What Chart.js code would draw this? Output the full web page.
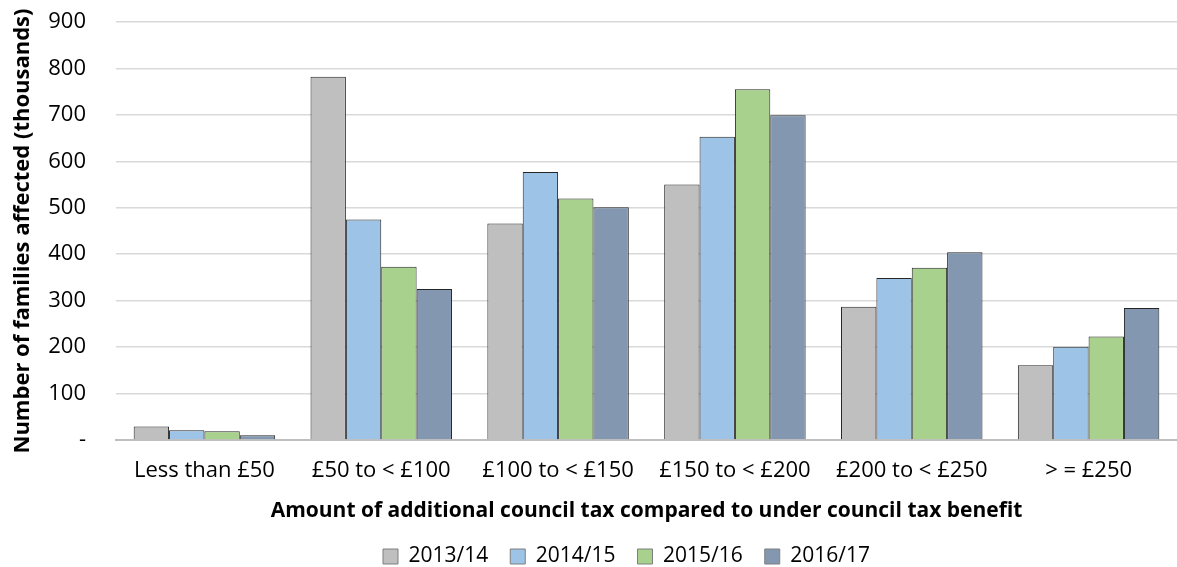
<!DOCTYPE html>
<html>
<head>
<meta charset="utf-8">
<script src="https://cdn.jsdelivr.net/npm/chart.js@4"></script>
<style>
  html, body { margin: 0; padding: 0; background: #fff; }
  #wrap { width: 1177px; height: 567px; }
</style>
</head>
<body>
<div id="wrap"><canvas id="chart" width="1177" height="567"></canvas></div>
<script>
const categories = ['Less than £50', '£50 to < £100', '£100 to < £150', '£150 to < £200', '£200 to < £250', '> = £250']
const years = ['2013/14', '2014/15', '2015/16', '2016/17']
const values2013 = [29, 782, 466, 550, 287, 161]
const values2014 = [21, 475, 577, 653, 349, 201]
const values2015 = [19, 373, 520, 755, 371, 223]
const values2016 = [10, 325, 501, 699, 404, 284]
const yTicks = [0, 100, 200, 300, 400, 500, 600, 700, 800, 900]

const fills = ['#BFBFBF', '#9DC3E6', '#A9D18E', '#8497B0']
const series = [values2013, values2014, values2015, values2016]
const font = 'Open Sans'
const textColor = '#000'

// Excel centres the legend a bit right of the canvas middle
const legendShift = {
    id: 'legendShift',
    afterLayout(chart) {
        chart.legend.left += 38
        chart.legend.right += 38
    }
}

const chart = new Chart(document.getElementById('chart'), {
    type: 'bar',
    data: {
        labels: categories,
        datasets: series.map((vals, i) => ({
            label: years[i],
            data: vals,
            backgroundColor: fills[i],
            borderColor: '#262626',
            borderWidth: 1,
            categoryPercentage: 0.8,
            barPercentage: 1.0
        }))
    },
    options: {
        responsive: false,
        animation: false,
        layout: {padding: {top: 22, right: 0, left: 0, bottom: -10}},
        plugins: {
            tooltip: {enabled: false},
            legend: {
                position: 'bottom',
                labels: {
                    color: textColor,
                    font: {family: font, size: 21},
                    boxWidth: 15,
                    boxHeight: 15,
                    padding: 22,
                    generateLabels: (c) => years.map((y, i) => ({
                        text: y,
                        fillStyle: fills[i],
                        strokeStyle: '#7F7F7F',
                        lineWidth: 1,
                        fontColor: textColor,
                        datasetIndex: i
                    }))
                }
            }
        },
        scales: {
            x: {
                afterFit: (scale) => {
                    scale.height = 84
                },
                grid: {display: false, drawTicks: false},
                border: {color: '#BFBFBF', width: 2},
                ticks: {
                    color: textColor,
                    font: {family: font, size: 22},
                    padding: 18,
                    maxRotation: 0,
                    autoSkip: false
                },
                title: {
                    display: true,
                    text: 'Amount of additional council tax compared to under council tax benefit',
                    color: textColor,
                    font: {family: font, size: 21, weight: 'bold'},
                    padding: {top: 0, bottom: 0}
                }
            },
            y: {
                min: 0,
                max: 900,
                afterBuildTicks: (scale) => {
                    scale.ticks = yTicks.map(v => ({value: v}))
                },
                afterFit: (scale) => {
                    scale.width = 116
                    scale.paddingTop = 0
                    scale.paddingBottom = 0
                },
                grid: {color: '#D9D9D9', lineWidth: 1.5, drawTicks: false},
                border: {display: false},
                ticks: {
                    color: textColor,
                    font: {family: font, size: 22},
                    padding: 30,
                    callback: (v) => v === 0 ? '-' : v
                },
                title: {
                    display: true,
                    text: 'Number of families affected (thousands)',
                    color: textColor,
                    font: {family: font, size: 22, weight: 'bold'},
                    padding: {top: 10, bottom: 0}
                }
            }
        }
    },
    plugins: [legendShift]
})
</script>
</body>
</html>
